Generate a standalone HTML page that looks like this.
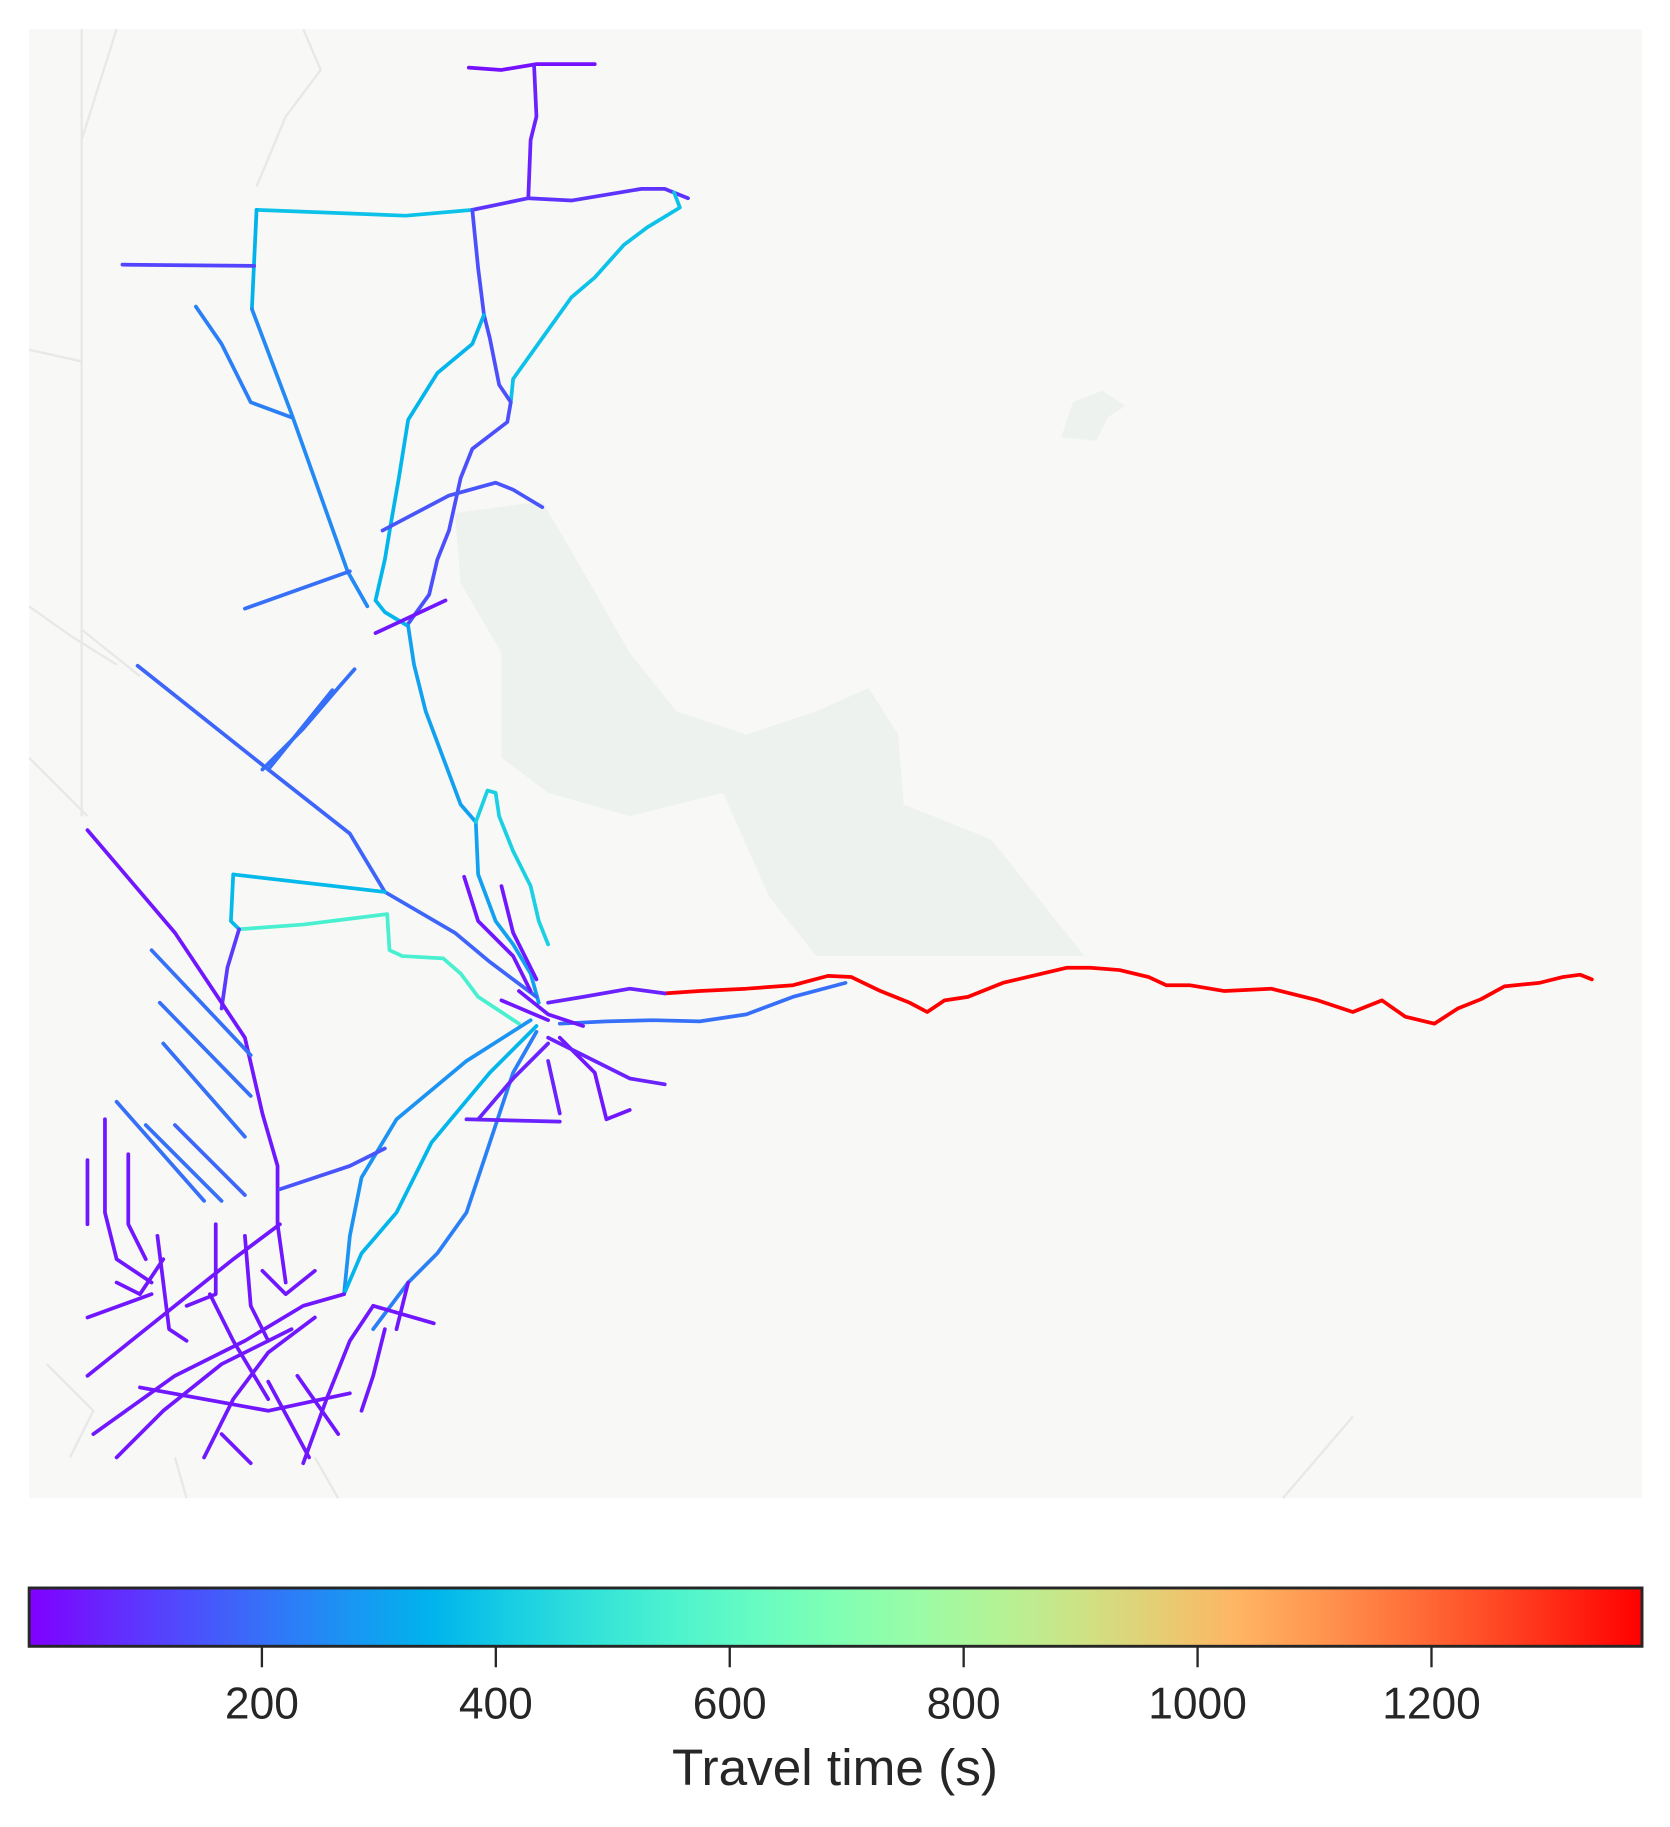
<!DOCTYPE html>
<html><head><meta charset="utf-8"><style>
html,body{margin:0;padding:0;background:#fff;}
svg{display:block;}
text{font-family:"Liberation Sans",sans-serif;fill:#262626;}
</style></head><body>
<svg id="chart" width="1670" height="1827" viewBox="0 0 1432 1567" preserveAspectRatio="none" xmlns="http://www.w3.org/2000/svg">
<defs>
<linearGradient id="rainbow" x1="0" x2="1" y1="0" y2="0"></linearGradient>
</defs>
<rect x="25" y="25" width="1383" height="1260" fill="#f8f8f7"/>
<path d="M390,440 L465,430 L500,490 L540,560 L580,610 L640,630 L700,610 L745,590 L770,630 L775,690 L850,720 L930,820 L700,820 L660,770 L620,680 L540,700 L470,680 L430,650 L430,560 L395,500 Z" fill="#eef2ee"/>
<path d="M910,375 L920,345 L945,335 L965,348 L950,358 L940,378 Z" fill="#eef2ee"/>
<g fill="none" stroke="#e8e8e8" stroke-width="2">
<path d="M70,25 L70,700 M70,540 L120,580 M25,650 L75,700 M25,520 L60,545 L100,570 M100,25 L70,120 M25,300 L70,310 M260,25 L275,60 L245,100 L220,160 M40,1170 L80,1210 L60,1250 M150,1250 L160,1285 M270,1250 L290,1285 M1100,1285 L1160,1215"/>
</g>
<g id="roads"></g>
<g>
<rect x="25" y="1362" width="1383" height="50" fill="url(#rainbow)" stroke="#262626" stroke-width="2.5"/>
<g id="cbticks"></g>
<text x="716" y="1531" font-size="44" text-anchor="middle">Travel time (s)</text>
</g>
</svg>
<script>
const cbMin = 1, cbMax = 1380;
const tickValues = [200, 400, 600, 800, 1000, 1200];
const roadTimes = [30,60,90,380,340,120,250,230,380,140,350,300,150,200,40,180,200,200,420,360,360,540,100,40,1380,60,200,270,350,230,150,200,200,200,200,200,180,40,40,40,40,40,40,40,40,40,40,40,40,40,40,40,40,40,40,40,40,60,60,60,60,40,40,40,40,40,40,40];
const roadPaths = [
"402,58 430,60 460,55 510,55","458,57 460,100 455,120 453,170","405,180 453,170 490,172 550,162 570,162 590,170",
"220,180 348,185 405,180","220,180 216,265","105,227 218,228","216,265 250,355 298,490 315,520",
"168,263 190,295 215,345 250,358","578,165 583,178 555,195 535,210 510,238 490,255 465,290 440,325 438,345",
"405,180 410,230 415,270 420,290 428,330 438,345 435,362 405,385 395,410 385,455 375,480 368,510 350,535",
"415,270 405,295 375,320 350,360 342,410 335,450 330,480 322,515 330,525 350,537",
"350,537 355,570 365,610 380,650 395,690 408,705 410,750 425,790 440,810 455,835 462,860",
"328,455 385,425 425,414 440,420 465,435","210,522 300,490","322,543 382,515",
"118,571 230,660 300,715 330,765 390,800 420,825 460,855","304,574 290,590 260,625 225,660","230,660 285,592",
"408,705 418,678 425,680 428,700 440,730 455,760 462,790 470,810","200,750 330,765","200,750 198,790 205,797",
"205,797 260,793 300,788 332,784 334,815 345,820 380,822 395,835 410,855 445,878","205,797 195,830 190,865",
"75,712 150,800 190,860 210,890 225,955 238,1000 238,1050 245,1100",
"570,852 600,850 640,848 680,845 710,837 730,838 755,850 780,860 795,868 810,858 830,855 860,843 885,837 915,830 935,830 960,832 985,838 1000,845 1020,845 1050,850 1090,848 1130,858 1160,868 1185,858 1205,872 1230,878 1250,865 1270,857 1290,846 1320,843 1340,838 1355,836 1365,840",
"470,860 500,855 540,848 570,852","480,878 520,876 560,875 600,876 640,870 680,855 725,843",
"455,875 400,910 340,960 310,1010 300,1060 295,1110","460,880 420,920 370,980 340,1040 310,1075 295,1110",
"460,885 440,920 420,980 400,1040 375,1075 350,1100 320,1140","330,985 300,1000 240,1020",
"130,815 215,905","137,860 215,940","140,895 210,975","100,945 175,1030","125,965 190,1030","150,965 210,1025",
"470,875 430,858","75,1180 150,1120 200,1080 240,1050","80,1230 150,1180 210,1150 260,1120 295,1110",
"100,1250 140,1210 190,1170 250,1140","175,1250 200,1200 230,1160 270,1130","260,1255 280,1200 300,1150 320,1120",
"120,1190 230,1210 300,1195","180,1110 200,1150 230,1200","320,1120 372,1135","330,1140 320,1180 310,1210",
"90,960 90,1040 100,1080 130,1100","75,995 75,1050","110,990 110,1050 125,1080","185,1050 185,1110 160,1120",
"210,1060 215,1120 230,1150","350,1100 340,1140","75,1130 130,1110","255,1180 290,1230","230,1185 265,1250",
"480,890 510,920 520,960 540,952","470,910 480,955","470,890 540,925 570,930","470,895 440,925 410,960",
"400,960 480,962","190,1230 215,1255","100,1100 120,1110 140,1080","135,1060 145,1140 160,1150","225,1090 245,1110 270,1090",
"398,752 410,790 440,820 455,850","430,760 440,800 460,840","445,850 470,870 500,880","455,895 470,910 490,905","600,880 610,900 640,880 660,870"
];
function rainbowRGB(v){
  v=Math.max(0,Math.min(1,v));
  const r=Math.min(1,Math.abs(2*v-0.5));
  const g=Math.sin(Math.PI*v);
  const b=Math.cos(Math.PI*v/2);
  return `rgb(${Math.round(255*r)},${Math.round(255*g)},${Math.round(255*Math.max(0,b))})`;
}
function timeColor(t){return rainbowRGB((t-cbMin)/(cbMax-cbMin));}
function xScale(val){return 25+(val-cbMin)/(cbMax-cbMin)*1383;}
const ns="http://www.w3.org/2000/svg";
const grad=document.getElementById('rainbow');
for(let i=0;i<=20;i++){
  const s=document.createElementNS(ns,'stop');
  s.setAttribute('offset',i/20);
  s.setAttribute('stop-color',rainbowRGB(i/20));
  grad.appendChild(s);
}
const roads=document.getElementById('roads');
roadPaths.forEach((p,i)=>{
  const el=document.createElementNS(ns,'polyline');
  el.setAttribute('points',p);
  el.setAttribute('fill','none');
  el.setAttribute('stroke',timeColor(roadTimes[i]));
  el.setAttribute('stroke-width','3.2');
  el.setAttribute('stroke-linejoin','round');
  el.setAttribute('stroke-linecap','round');
  
  
  roads.appendChild(el);
});
const cb=document.getElementById('cbticks');
tickValues.forEach(v=>{
  const x=xScale(v);
  const l=document.createElementNS(ns,'line');
  l.setAttribute('x1',x);l.setAttribute('x2',x);l.setAttribute('y1',1413);l.setAttribute('y2',1430);
  l.setAttribute('stroke','#262626');l.setAttribute('stroke-width','2');
  
  
  cb.appendChild(l);
  const t=document.createElementNS(ns,'text');
  t.setAttribute('x',x);t.setAttribute('y',1474);t.setAttribute('font-size','38');t.setAttribute('text-anchor','middle');
  t.textContent=v;
  
  
  cb.appendChild(t);
});
</script>
</body></html>
